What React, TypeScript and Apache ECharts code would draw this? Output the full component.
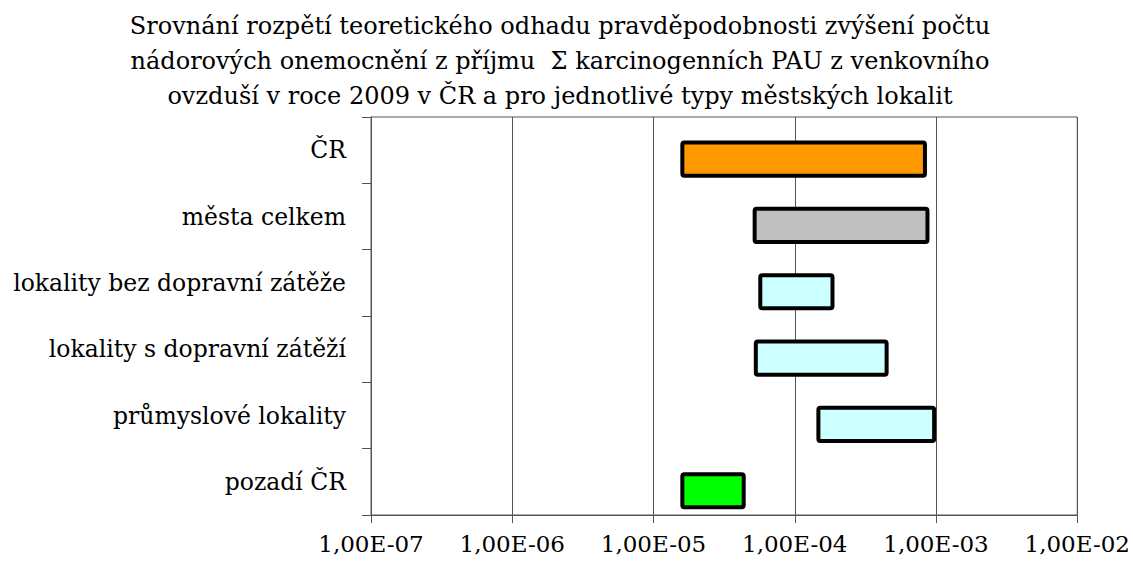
import React, { useEffect, useRef } from "react";
import * as echarts from "echarts";

const titleLines = [
  "Srovnání rozpětí teoretického odhadu pravděpodobnosti zvýšení počtu",
  "nádorových onemocnění z příjmu  Σ karcinogenních PAU z venkovního",
  "ovzduší v roce 2009 v ČR a pro jednotlivé typy městských lokalit",
];

const categories = [
  "ČR",
  "města celkem",
  "lokality bez dopravní zátěže",
  "lokality s dopravní zátěží",
  "průmyslové lokality",
  "pozadí ČR",
];

const lowValues = [1.6e-5, 5.2e-5, 5.7e-5, 5.3e-5, 1.47e-4, 1.6e-5];
const highValues = [8.35e-4, 8.7e-4, 1.85e-4, 4.47e-4, 9.7e-4, 4.35e-5];

const barColors = ["#FF9900", "#C0C0C0", "#CCFFFF", "#CCFFFF", "#CCFFFF", "#00FF00"];

const xMin = 1e-7;
const xMax = 1e-2;

const FONT = "DejaVu Serif";

function fmtTick(v: number): string {
  const e = Math.round(Math.log10(v));
  const sign = e < 0 ? "-" : "+";
  const a = Math.abs(e);
  return "1,00E" + sign + (a < 10 ? "0" + a : String(a));
}

export default function App() {
  const ref = useRef<HTMLDivElement>(null);
  useEffect(() => {
    if (!ref.current) return;
    const chart = echarts.init(ref.current, undefined, { renderer: "svg" });
    const data = categories.map((c, i) => [i, lowValues[i], highValues[i]]);
    chart.setOption({
      animation: false,
      backgroundColor: "#ffffff",
      title: {
        text: titleLines.join("\n"),
        left: 555,
        textAlign: "center",
        top: 3,
        textStyle: {
          fontFamily: FONT,
          fontSize: 24,
          fontWeight: "normal",
          color: "#000",
          lineHeight: 35,
        },
      },
      grid: {
        left: 371,
        top: 117,
        right: 55,
        bottom: 46,
        show: true,
        borderColor: "#555",
        borderWidth: 1,
      },
      xAxis: {
        type: "log",
        logBase: 10,
        min: xMin,
        max: xMax,
        axisLine: { show: true, lineStyle: { color: "#555", width: 1 } },
        axisTick: { show: true, length: 8, lineStyle: { color: "#555" } },
        minorTick: { show: false },
        splitLine: { show: true, lineStyle: { color: "#555", width: 1 } },
        axisLabel: {
          formatter: (v: number) => fmtTick(v),
          fontFamily: FONT,
          fontSize: 23,
          color: "#000",
          margin: 17,
        },
      },
      yAxis: {
        type: "category",
        data: categories,
        inverse: true,
        axisLine: { show: true, lineStyle: { color: "#555", width: 1 } },
        axisTick: { show: true, length: 9, lineStyle: { color: "#555" } },
        splitLine: { show: false },
        axisLabel: {
          fontFamily: FONT,
          fontSize: 23.5,
          color: "#000",
          margin: 25,
        },
      },
      series: [
        {
          type: "custom",
          data,
          encode: { x: [1, 2], y: 0 },
          renderItem: (params: any, api: any) => {
            const idx = api.value(0);
            const p1 = api.coord([api.value(1), idx]);
            const p2 = api.coord([api.value(2), idx]);
            const band = api.size([0, 1])[1];
            const h = band * 0.5;
            const cy = p1[1] + band * 0.135;
            return {
              type: "rect",
              shape: { x: p1[0], y: cy - h / 2, width: p2[0] - p1[0], height: h, r: 2 },
              style: { fill: barColors[idx], stroke: "#000", lineWidth: 4 },
            };
          },
        },
      ],
    });
    return () => chart.dispose();
  }, []);
  return (
    <div
      ref={ref}
      style={{ position: "absolute", left: 0, top: 0, width: 1133, height: 561 }}
    />
  );
}
